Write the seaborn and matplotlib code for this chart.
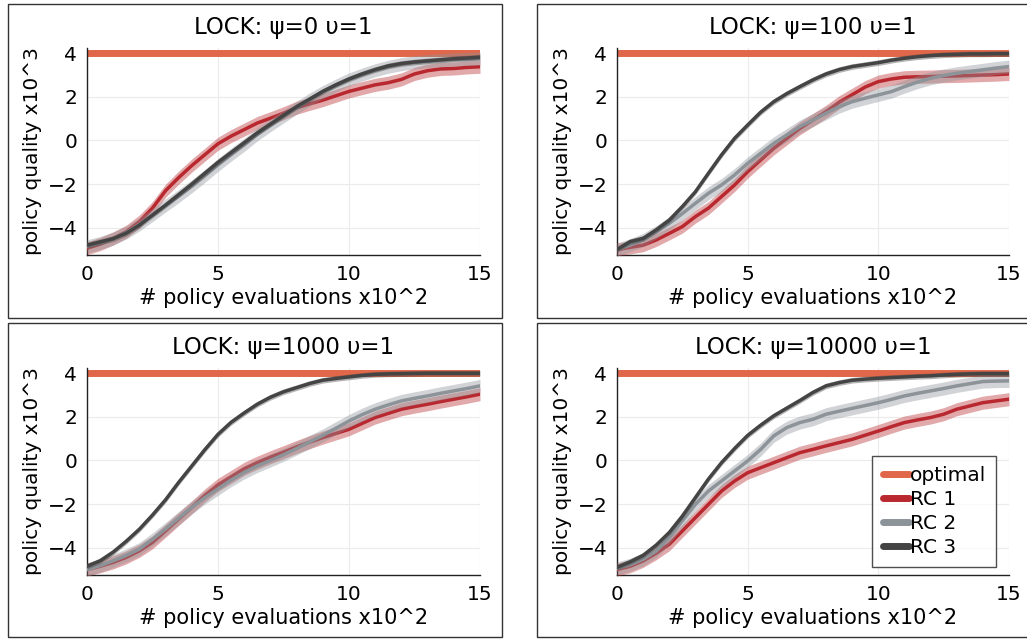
import matplotlib

matplotlib.use("Agg")

import matplotlib.pyplot as plt
import pandas as pd
import seaborn as sns
from matplotlib.lines import Line2D
from matplotlib.patches import Rectangle

# policy evaluations (x10^2)
X_EVALS = [0, 0.5, 1, 1.5, 2, 2.5, 3, 3.5, 4, 4.5, 5, 5.5, 6, 6.5, 7, 7.5,
           8, 8.5, 9, 9.5, 10, 10.5, 11, 11.5, 12, 12.5, 13, 13.5, 14, 14.5, 15]

PANEL_TITLES = ["LOCK: ψ=0 υ=1", "LOCK: ψ=100 υ=1",
                "LOCK: ψ=1000 υ=1", "LOCK: ψ=10000 υ=1"]

OPTIMAL = 4.0

# psi = 0
RC1_PSI0 = [-4.94, -4.75, -4.49, -4.18, -3.72, -3.1, -2.3, -1.7, -1.15, -0.65, -0.15, 0.2, 0.5, 0.8, 1.02, 1.25,
            1.5, 1.68, 1.85, 2.05, 2.25, 2.4, 2.55, 2.65, 2.8, 3.05, 3.2, 3.28, 3.3, 3.35, 3.38]
RC2_PSI0 = [-4.85, -4.7, -4.5, -4.22, -3.85, -3.42, -2.98, -2.55, -2.1, -1.62, -1.12, -0.65, -0.2, 0.28, 0.7, 1.1,
            1.5, 1.88, 2.22, 2.52, 2.8, 3.02, 3.22, 3.38, 3.5, 3.58, 3.64, 3.68, 3.72, 3.74, 3.76]
RC3_PSI0 = [-4.8, -4.65, -4.5, -4.25, -3.88, -3.42, -2.96, -2.48, -2.0, -1.5, -1.0, -0.55, -0.1, 0.35, 0.75, 1.15,
            1.55, 1.9, 2.25, 2.55, 2.82, 3.05, 3.25, 3.42, 3.53, 3.6, 3.65, 3.7, 3.75, 3.78, 3.82]

# psi = 100
RC1_PSI100 = [-5.0, -4.9, -4.8, -4.56, -4.26, -3.95, -3.49, -3.1, -2.57, -2.04, -1.43, -0.89, -0.36, 0.1, 0.56, 0.94,
              1.32, 1.75, 2.1, 2.45, 2.7, 2.82, 2.9, 2.92, 2.93, 2.95, 2.96, 2.98, 3.0, 3.02, 3.05]
RC2_PSI100 = [-5.0, -4.8, -4.56, -4.2, -3.8, -3.35, -2.88, -2.42, -2.04, -1.58, -1.05, -0.59, -0.13, 0.25, 0.64, 0.94,
              1.25, 1.55, 1.78, 1.94, 2.09, 2.24, 2.47, 2.68, 2.85, 2.98, 3.08, 3.16, 3.24, 3.32, 3.39]
RC3_PSI100 = [-5.0, -4.64, -4.49, -4.1, -3.65, -3.03, -2.35, -1.5, -0.66, 0.1, 0.71, 1.3, 1.78, 2.15, 2.47, 2.78,
              3.05, 3.25, 3.39, 3.48, 3.57, 3.68, 3.77, 3.84, 3.89, 3.93, 3.95, 3.97, 3.97, 3.98, 3.98]

# psi = 1000
RC1_PSI1000 = [-5.0, -4.85, -4.67, -4.44, -4.14, -3.75, -3.22, -2.68, -2.15, -1.6, -1.12, -0.75, -0.38, -0.1, 0.15, 0.38,
               0.62, 0.84, 1.05, 1.24, 1.43, 1.7, 1.97, 2.16, 2.35, 2.47, 2.58, 2.7, 2.81, 2.92, 3.04]
RC2_PSI1000 = [-5.0, -4.82, -4.6, -4.35, -4.06, -3.62, -3.14, -2.64, -2.15, -1.7, -1.3, -0.9, -0.55, -0.25, 0.0, 0.26,
               0.55, 0.85, 1.15, 1.48, 1.81, 2.1, 2.35, 2.55, 2.73, 2.85, 2.96, 3.08, 3.19, 3.3, 3.42]
RC3_PSI1000 = [-4.85, -4.6, -4.2, -3.7, -3.15, -2.5, -1.8, -1.0, -0.25, 0.5, 1.2, 1.75, 2.18, 2.58, 2.9, 3.15,
               3.34, 3.53, 3.68, 3.76, 3.83, 3.9, 3.95, 3.97, 3.98, 3.99, 4.0, 4.0, 4.0, 4.0, 4.0]

# psi = 10000
RC1_PSI10000 = [-5.0, -4.85, -4.6, -4.25, -3.84, -3.23, -2.62, -2.01, -1.4, -0.94, -0.56, -0.33, -0.1, 0.13, 0.36, 0.51,
                0.67, 0.82, 0.97, 1.16, 1.35, 1.55, 1.74, 1.86, 1.97, 2.12, 2.35, 2.5, 2.65, 2.73, 2.81]
RC2_PSI10000 = [-4.95, -4.78, -4.53, -4.15, -3.54, -2.77, -2.01, -1.4, -0.94, -0.48, -0.02, 0.51, 1.13, 1.51, 1.74, 1.89,
                2.12, 2.26, 2.39, 2.52, 2.65, 2.8, 2.96, 3.08, 3.19, 3.3, 3.42, 3.52, 3.62, 3.64, 3.65]
RC3_PSI10000 = [-4.9, -4.65, -4.35, -3.88, -3.3, -2.55, -1.7, -0.85, -0.1, 0.55, 1.15, 1.62, 2.05, 2.4, 2.75, 3.12,
                3.42, 3.57, 3.68, 3.73, 3.77, 3.8, 3.83, 3.86, 3.88, 3.92, 3.95, 3.97, 3.98, 3.98, 3.98]

# half-width of the shaded bands
SPREAD = {"RC 1": 0.3, "RC 2": 0.3, "RC 3": 0.13}

SERIES = ["RC 1", "RC 2", "RC 3"]
COLORS = {"optimal": "#E0674A", "RC 1": "#B8282E", "RC 2": "#8C9399", "RC 3": "#444444"}

PANELS = [
    [RC1_PSI0, RC2_PSI0, RC3_PSI0],
    [RC1_PSI100, RC2_PSI100, RC3_PSI100],
    [RC1_PSI1000, RC2_PSI1000, RC3_PSI1000],
    [RC1_PSI10000, RC2_PSI10000, RC3_PSI10000],
]

W, H = 1027, 639
# axes rectangles in pixels: left, right, top, bottom
AX_PX = [(87, 480, 48, 255), (617, 1009, 48, 255),
         (87, 480, 368, 575), (617, 1009, 368, 575)]
# outer frames in pixels
FRAME_PX = [(8, 502, 4, 318), (537, 1040, 4, 318),
            (8, 502, 323, 637), (537, 1040, 323, 637)]

sns.set_theme(style="white")
plt.rcParams["font.family"] = ["DejaVu Sans"]
plt.rcParams["text.color"] = "black"
plt.rcParams["axes.labelcolor"] = "black"

fig = plt.figure(figsize=(W / 100, H / 100), dpi=100)

for k, (title, curves) in enumerate(zip(PANEL_TITLES, PANELS)):
    l, r, t, b = AX_PX[k]
    ax = fig.add_axes([l / W, 1 - b / H, (r - l) / W, (b - t) / H])

    frows = []
    for name, vals in zip(SERIES, curves):
        for x, v in zip(X_EVALS, vals):
            frows.append({"evals": x, "quality": v, "series": name})
    df = pd.DataFrame(frows)

    ax.plot([X_EVALS[0], X_EVALS[-1]], [OPTIMAL, OPTIMAL], color=COLORS["optimal"], lw=5,
            solid_capstyle="butt", zorder=2)

    for i, name in enumerate(SERIES):
        sub = df[df["series"] == name]
        ax.fill_between(sub["evals"], sub["quality"] - SPREAD[name], sub["quality"] + SPREAD[name],
                        color=COLORS[name], alpha=0.4, lw=0, zorder=3 + i)
        sns.lineplot(data=sub, x="evals", y="quality", color=COLORS[name], lw=2.5, ax=ax,
                     legend=False, zorder=3 + i)

    ax.set_xlim(0, 15)
    ax.set_ylim(-5.25, 4.24)
    ax.set_xticks([0, 5, 10, 15])
    ax.set_yticks([-4, -2, 0, 2, 4])
    ax.grid(True, color="#EBEBEB", lw=0.8)
    ax.set_axisbelow(True)
    for side in ["top", "right"]:
        ax.spines[side].set_visible(False)
    for side in ["left", "bottom"]:
        ax.spines[side].set_color("#222222")
        ax.spines[side].set_linewidth(1.0)
    ax.tick_params(direction="in", length=4, width=0.8, labelsize=14.5, pad=7, colors="#222222",
                   labelcolor="black")
    ax.set_title(title, fontsize=16.5, pad=10)
    ax.set_xlabel("# policy evaluations x10^2", fontsize=15, labelpad=3)
    ax.set_ylabel("policy quality x10^3", fontsize=14.5, labelpad=4)

    fl, fr, ft, fb = FRAME_PX[k]
    fig.patches.append(Rectangle((fl / W, 1 - fb / H), (fr - fl) / W, (fb - ft) / H,
                                 transform=fig.transFigure, fill=False, ec="#333333", lw=1.0))

    if k == 3:
        handles = [Line2D([], [], color=COLORS[n], lw=5) for n in ["optimal"] + SERIES]
        leg = ax.legend(handles, ["optimal"] + SERIES, loc="lower right", bbox_to_anchor=(0.967, 0.039),
                        borderaxespad=0, fontsize=14.5, handlelength=1.3, handletextpad=0.05,
                        labelspacing=0.24, frameon=True, fancybox=False, borderpad=0.5)
        leg.get_frame().set_edgecolor("#222222")
        leg.get_frame().set_linewidth(1.0)
        leg.set_zorder(10)

fig.savefig("out.png", dpi=100)
